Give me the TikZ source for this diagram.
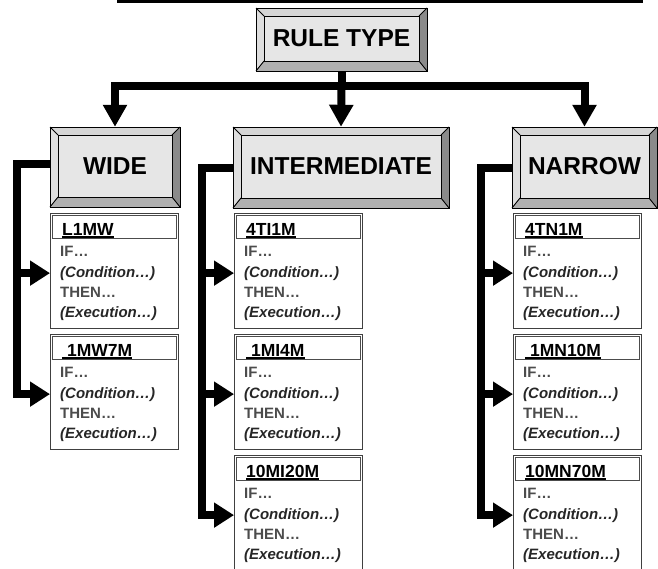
\documentclass[tikz,border=0pt]{standalone}
\usepackage{fontspec}
\setmainfont{Liberation Sans}
\usetikzlibrary{arrows.meta}

% bevelled button: name, x1, y1, x2, y2, label
\newcommand\bevbox[6]{%
  \fill[bevtop]   (#2,#3) -- (#4,#3) -- (#4-8,#3+8) -- (#2+8,#3+8) -- cycle;
  \fill[bevleft]  (#2,#3) -- (#2+8,#3+8) -- (#2+8,#5-10) -- (#2,#5) -- cycle;
  \fill[bevright] (#4,#3) -- (#4,#5) -- (#4-8,#5-10) -- (#4-8,#3+8) -- cycle;
  \fill[bevbot]   (#2,#5) -- (#4,#5) -- (#4-8,#5-10) -- (#2+8,#5-10) -- cycle;
  \draw[bevline] (#2,#3) -- (#2+8,#3+8) (#4,#3) -- (#4-8,#3+8)
                 (#2,#5) -- (#2+8,#5-10) (#4,#5) -- (#4-8,#5-10);
  \draw[bevline,fill=bevface] (#2+8,#3+8) rectangle (#4-8,#5-10);
  \draw[bevline] (#2,#3) rectangle (#4,#5);
  \node[inner sep=0,minimum width=#4-#2,minimum height=#5-#3] (#1) at ({(#2+#4)/2},{(#3+#5)/2}) {};
  \node[titletext] (#1-t) at ({(#2+#4)/2},{(#3+#5)/2-1}) {#6};
}

% rule card: name, left x, top y, heading
\newcommand\rulecard[4]{%
  \node[card,anchor=north west] (#1) at (#2,#3) {};
  \draw[cardhead] (#2+2,#3+2) rectangle (#2+126,#3+25);
  \node[headtext,anchor=base west] (#1-h) at (#2+12,#3+22) {#4};
  \draw[line width=1.8pt] ([yshift=-2pt]#1-h.base west) -- ([yshift=-2pt]#1-h.base east);
  \node[bodytext,text=black!70,anchor=base west] (#1-if) at (#2+10,#3+43) {IF…};
  \node[bodyital,anchor=base west] (#1-c) at (#2+10,#3+64) {(Condition…)};
  \node[bodytext,text=black!70,anchor=base west] (#1-th) at (#2+10,#3+84) {THEN…};
  \node[bodyital,anchor=base west] (#1-e) at (#2+10,#3+104) {(Execution…)};
}

\definecolor{bevface}{HTML}{E6E6E6}
\definecolor{bevtopc}{HTML}{D6D6D6}
\definecolor{bevleftc}{HTML}{DEDEDE}
\definecolor{bevrightc}{HTML}{8A8A8A}
\definecolor{bevbotc}{HTML}{B0B0B0}

\tikzset{
  bevtop/.style={fill=bevtopc},
  bevleft/.style={fill=bevleftc},
  bevright/.style={fill=bevrightc},
  bevbot/.style={fill=bevbotc},
  bevline/.style={draw=black,line width=0.9pt},
  titletext/.style={inner sep=0,font=\fontsize{24.5}{28}\selectfont\bfseries},
  card/.style={draw=black!75,line width=1pt,fill=white,minimum width=128pt,minimum height=115pt,inner sep=0},
  cardhead/.style={draw=black!70,line width=0.9pt},
  headtext/.style={inner sep=0,font=\fontsize{17.5}{20}\selectfont\bfseries},
  bodytext/.style={inner sep=0,font=\fontsize{15}{17}\selectfont\bfseries},
  bodyital/.style={inner sep=0,text=black!85,font=\fontsize{15}{17}\selectfont\bfseries\itshape},
  conn/.style={draw=black,line width=8pt,line join=miter},
  drop/.style={conn,-{Triangle[length=22pt,width=23pt]}},
  branch/.style={conn,-{Triangle[length=20pt,width=24pt]}},
}

\begin{document}
\begin{tikzpicture}[x=1pt,y=-1pt]
  \useasboundingbox (0,0) rectangle (658,568);
  \begin{scope}
  \clip (0,0) rectangle (658,568);

  % rule across the top
  \draw[line width=3.2pt] (117,1.6) -- (643,1.6);

  % category buttons
  \bevbox{rt}{256}{8}{427}{71}{RULE TYPE}
  \bevbox{wide}{50}{127}{180}{207}{WIDE}
  \bevbox{inter}{233}{127}{449}{208}{INTERMEDIATE}
  \bevbox{narrow}{512}{127}{657}{208}{NARROW}

  % rule cards
  \rulecard{w1}{50}{213}{L1MW}
  \rulecard{w2}{50}{334}{\ 1MW7M}
  \rulecard{i1}{234}{213}{4TI1M}
  \rulecard{i2}{234}{334}{\ 1MI4M}
  \rulecard{i3}{234}{455}{10MI20M}
  \rulecard{n1}{513}{213}{4TN1M}
  \rulecard{n2}{513}{334}{\ 1MN10M}
  \rulecard{n3}{513}{455}{10MN70M}

  % tree from the top button
  \coordinate (bar) at (341.5,85.5);
  \draw[conn] (rt.south) -- (bar);
  \draw[drop] (bar) -| (wide.north);
  \draw[drop] (bar) -- (inter.north);
  \draw[drop] (bar) -| (narrow.north);

  % rails down the left of each column
  \coordinate (wr) at (17,0);
  \coordinate (ir) at (202,0);
  \coordinate (nr) at (481,0);

  \draw[branch] ([yshift=3pt]wide.west) -- ([yshift=3pt]wide.west -| wr) |- (w2-c -| w2.west);
  \draw[branch] (w1-c -| wr) -- (w1-c -| w1.west);

  \draw[branch] (inter.west) -- (inter.west -| ir) |- (i3-c -| i3.west);
  \draw[branch] (i1-c -| ir) -- (i1-c -| i1.west);
  \draw[branch] (i2-c -| ir) -- (i2-c -| i2.west);

  \draw[branch] (narrow.west) -- (narrow.west -| nr) |- (n3-c -| n3.west);
  \draw[branch] (n1-c -| nr) -- (n1-c -| n1.west);
  \draw[branch] (n2-c -| nr) -- (n2-c -| n2.west);
  \end{scope}
\end{tikzpicture}
\end{document}
